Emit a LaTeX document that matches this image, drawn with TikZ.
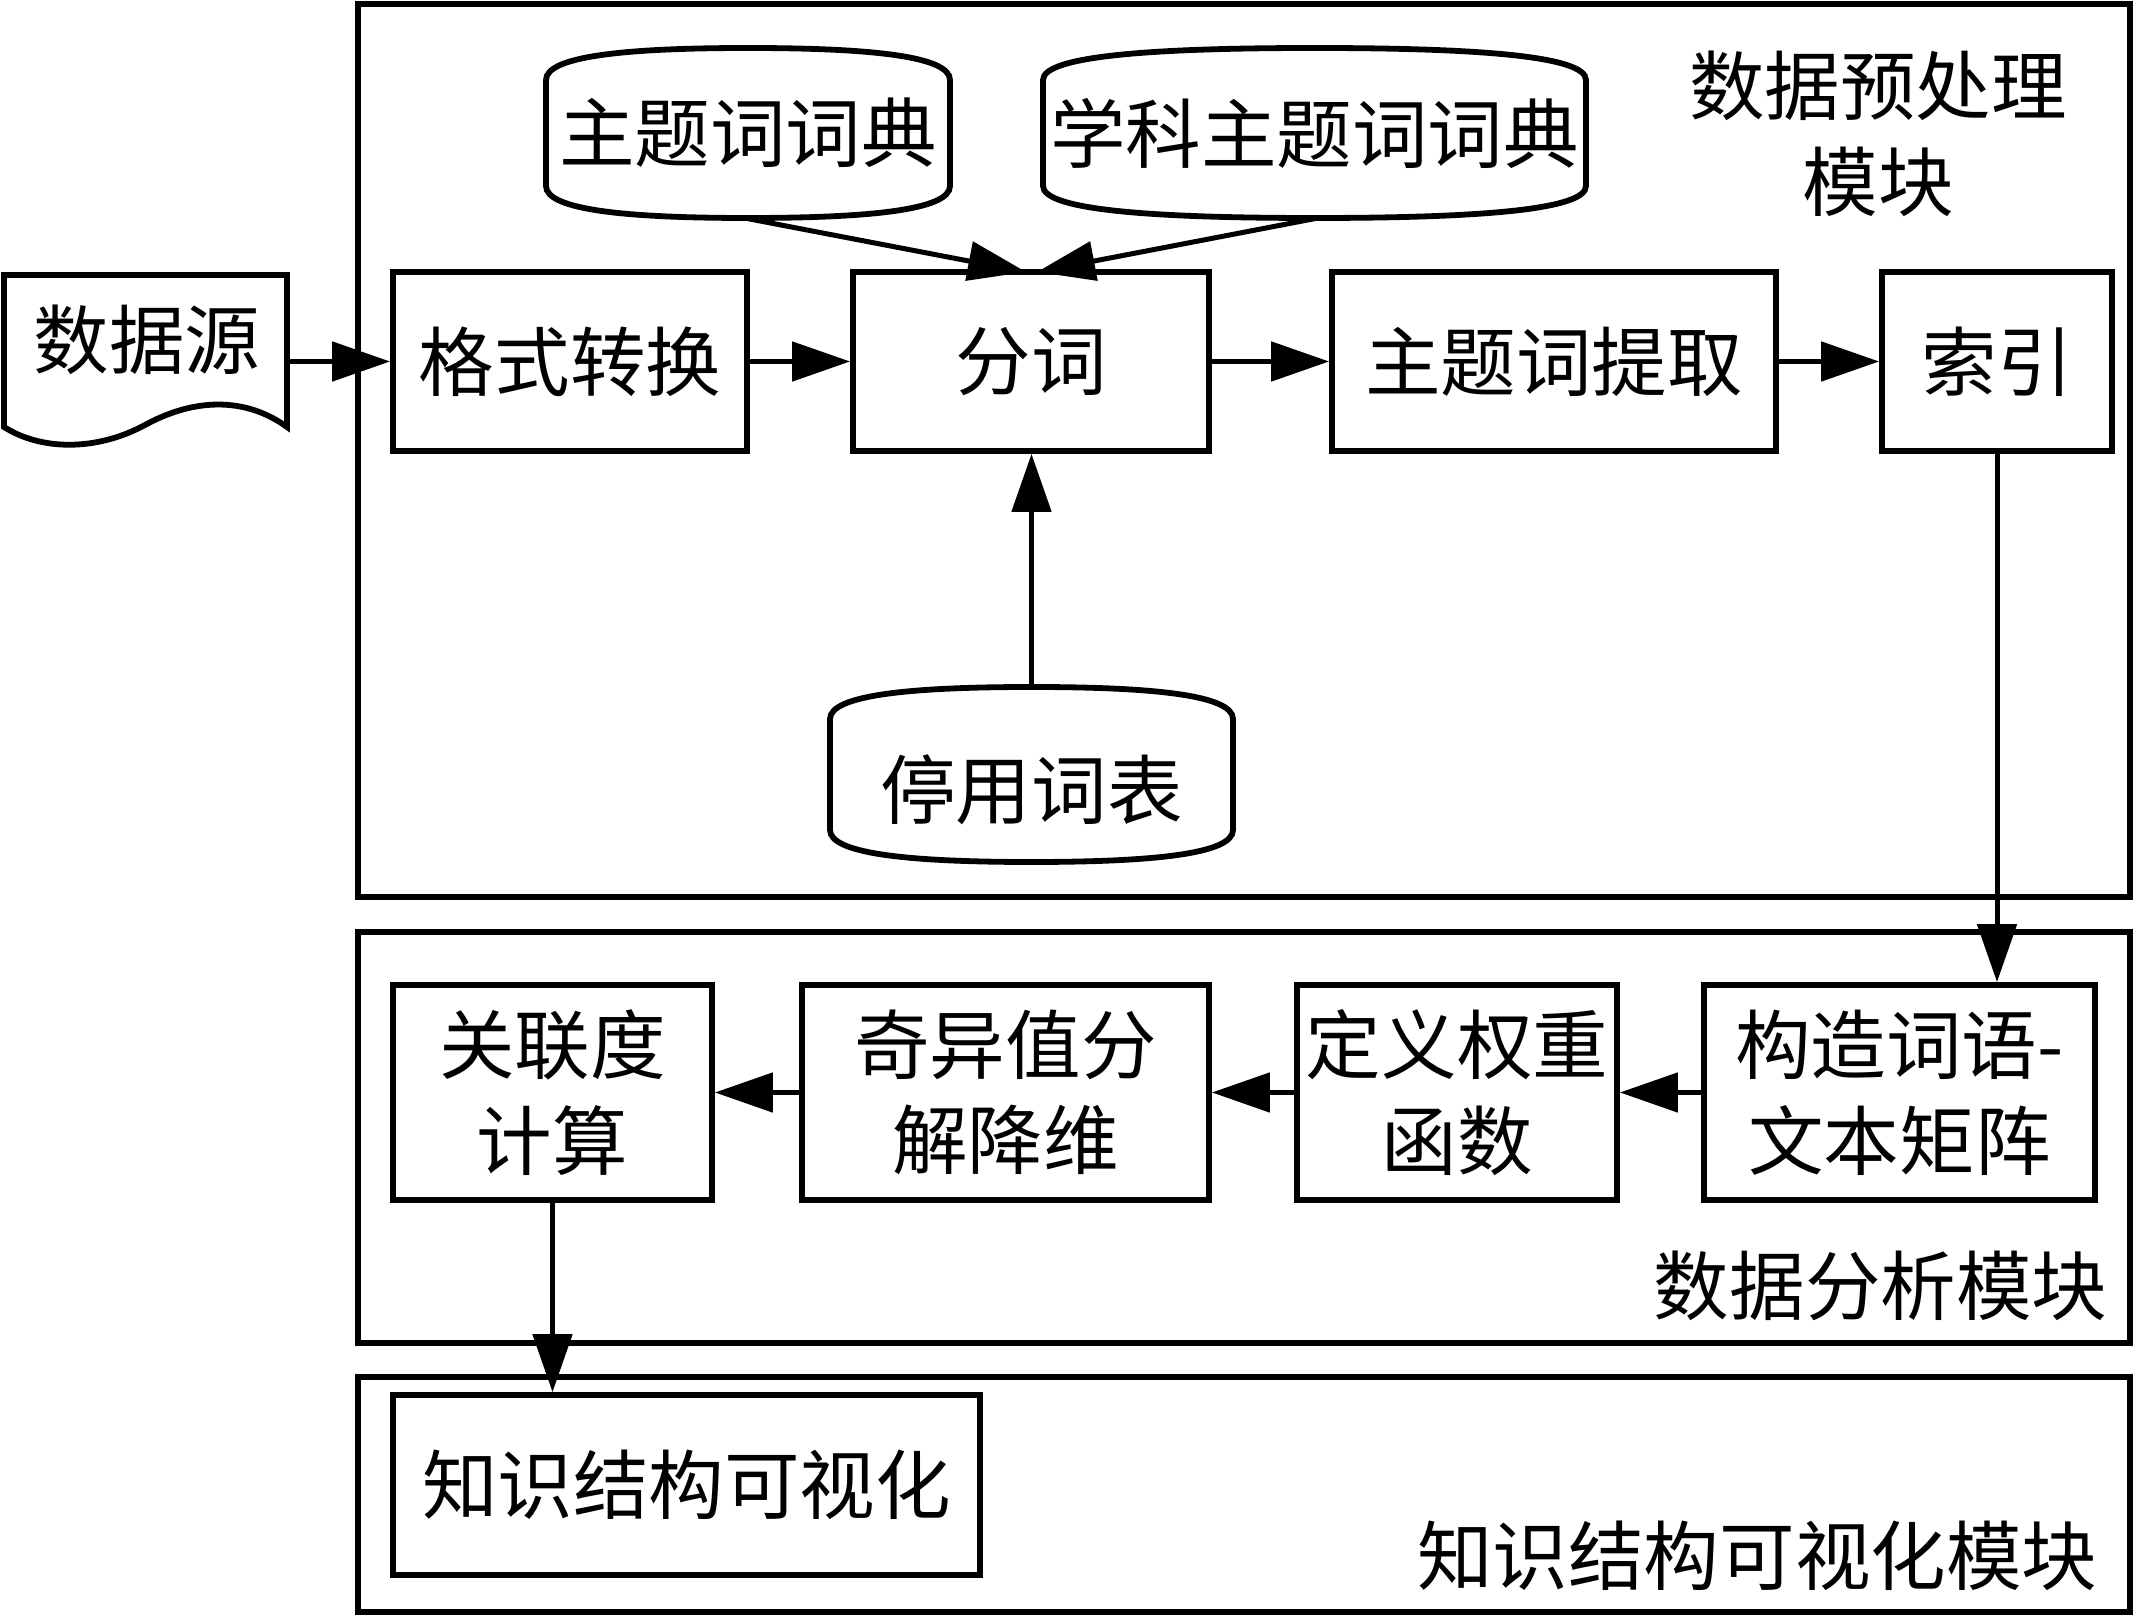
\documentclass[tikz,border=0pt]{standalone}
\usepackage{fontspec}
\setmainfont{Noto Sans CJK SC}
\usetikzlibrary{arrows.meta,calc}
\tikzset{
  frame/.style={draw,line width=0.58mm,line join=miter},
  arr/.style={line width=0.5mm,-{Triangle[length=5.8mm,width=3.9mm]}},
  txt/.style={font=\fontsize{21.5}{27.2}\selectfont,inner sep=0pt,align=center},
  box/.style={txt,draw,line width=0.58mm},
  db/.style={txt,minimum width=#1,minimum height=17mm}
}
\newcommand\dbpath[4]{%
  \pgfmathsetmacro\dbxm{(#1+#3)/2}%
  \pgfmathsetmacro\dbxa{#1+0.2*(#3-#1)}%
  \pgfmathsetmacro\dbxb{#3-0.2*(#3-#1)}%
  \draw[frame] (#1,#2+32) -- (#1,#4-32)
    .. controls (#1,#4-8) and (\dbxa,#4) .. (\dbxm,#4)
    .. controls (\dbxb,#4) and (#3,#4-8) .. (#3,#4-32)
    -- (#3,#2+32)
    .. controls (#3,#2+8) and (\dbxb,#2) .. (\dbxm,#2)
    .. controls (\dbxa,#2) and (#1,#2+8) .. cycle;}
\begin{document}
\begin{tikzpicture}[x=0.1mm,y=-0.1mm]
\useasboundingbox (0,0) rectangle (2134,1616);
\fill[white] (0,0) rectangle (2134,1616);
% module frames
\draw[frame] (358,4) rectangle (2130,897);
\draw[frame] (358,932) rectangle (2130,1343);
\draw[frame] (358,1377) rectangle (2130,1612);
\node[txt] (m1) at (1878,134) {数据预处理\\模块};
\node[txt,anchor=east] (m2) at (2108,1286) {数据分析模块};
\node[txt,anchor=east] (m3) at (2098,1556) {知识结构可视化模块};
% data source document
\draw[frame] (4,275) -- (287,275) -- (287,427)
  .. controls (250,400) and (200,395) .. (145,425)
  .. controls (95,452) and (40,450) .. (4,427) -- cycle;
\node[txt] (ds) at (147,340) {数据源};
\coordinate (dsR) at (287,361.5);
% row 1
\node[box,minimum width=35.4mm,minimum height=17.9mm] (fmt) at (570,361.5) {格式转换};
\node[box,minimum width=35.6mm,minimum height=17.9mm] (fc) at (1031,361.5) {分词};
\node[box,minimum width=44.4mm,minimum height=17.9mm] (ext) at (1554,361.5) {主题词提取};
\node[box,minimum width=23.0mm,minimum height=17.9mm] (idx) at (1997,361.5) {索引};
% dictionaries
\dbpath{546}{48}{950}{218}
\node[db=40.4mm] (d1) at (748,133) {主题词词典};
\dbpath{1043}{48}{1586}{218}
\node[db=54.3mm] (d2) at (1314.5,133) {学科主题词词典};
\dbpath{830}{687}{1233}{862}
\node[db=40.3mm,minimum height=17.5mm] (stop) at (1031.5,774.5) {};
\node[txt] (stoptext) at (1031.5,790) {停用词表};
\coordinate (tipL) at (1026,272);
\coordinate (tipR) at (1037,272);
% row 2
\node[box,minimum width=31.9mm,minimum height=21.5mm] (rel) at (552.5,1092.5) {关联度\\计算};
\node[box,minimum width=40.7mm,minimum height=21.5mm] (svd) at (1005.5,1092.5) {奇异值分\\解降维};
\node[box,minimum width=32.0mm,minimum height=21.5mm] (wt) at (1457,1092.5) {定义权重\\函数};
\node[box,minimum width=39.1mm,minimum height=21.5mm] (mat) at (1899.5,1092.5) {构造词语-\\文本矩阵};
% row 3
\node[box,minimum width=58.7mm,minimum height=18.0mm] (vis) at (686.5,1485) {知识结构可视化};
% connectors
\draw[arr] (dsR) -- (fmt.west);
\draw[arr] (fmt) -- (fc);
\draw[arr] (fc) -- (ext);
\draw[arr] (ext) -- (idx);
\draw[arr] (d1.south) -- (tipL);
\draw[arr] (d2.south) -- (tipR);
\draw[arr] (stop.north) -- (stop.north |- fc.south);
\draw[arr] (idx.south) -- (idx.south |- mat.north);
\draw[arr] (mat) -- (wt);
\draw[arr] (wt) -- (svd);
\draw[arr] (svd) -- (rel);
\draw[arr] (rel.south) -- (rel.south |- vis.north);
\end{tikzpicture}
\end{document}
